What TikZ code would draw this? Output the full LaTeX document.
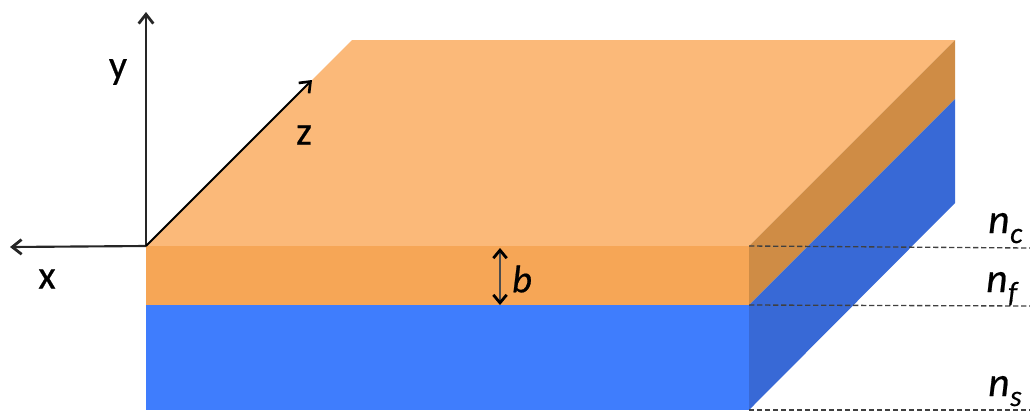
\documentclass[tikz,border=0pt]{standalone}
\usepackage{fontspec}
\setmainfont{Carlito}[FakeBold=0.5]
\newfontfamily\hvfont{Carlito}[RawFeature={embolden=0.5}]
\newfontfamily\hvit{Carlito Italic}[RawFeature={embolden=0.5}]
\usetikzlibrary{arrows.meta}
\definecolor{topface}{HTML}{FBB979}
\definecolor{filmfront}{HTML}{F6A656}
\definecolor{filmside}{HTML}{CF8C45}
\definecolor{subfront}{HTML}{3F7DFD}
\definecolor{subside}{HTML}{3869D6}
\newcommand{\nsub}[1]{n\kern.5pt\raisebox{-7.5pt}{\fontsize{22}{22}\selectfont\hvit #1}}
\tikzset{
  axisline/.style={draw=black!85,line width=1.6pt,-{Straight Barb[length=7pt,width=11pt,line width=2.1pt]}},
  zline/.style={draw=black,line width=1.5pt,-{Straight Barb[length=7pt,width=11pt,line width=2pt]}},
  bline/.style={draw=black!70,line width=1.3pt,{Straight Barb[length=6pt,width=10pt,line width=2.1pt,black]}-{Straight Barb[length=6pt,width=10pt,line width=2.1pt,black]}},
  level/.style={draw=black!75,line width=1pt,dash pattern=on 4pt off 2pt},
  lab/.style={inner sep=0pt,font=\fontsize{30}{30}\selectfont\hvfont},
  nlab/.style={inner sep=0pt,font=\fontsize{31}{31}\selectfont\hvit}
}
\begin{document}
\begin{tikzpicture}[x=.75pt,y=-.75pt]
\useasboundingbox (0,0) rectangle (1030,412);
% corners
\coordinate (o) at (146,246);
\coordinate (tl) at (352,40);
\coordinate (tr) at (955,40);
\coordinate (fr) at (749,246);
\coordinate (ml) at (146,305);
\coordinate (mr) at (749,305);
\coordinate (bl) at (146,410);
\coordinate (br) at (749,410);
\coordinate (rm) at (955,99);
\coordinate (rb) at (955,203);
% faces
\fill[topface] (o) -- (tl) -- (tr) -- (fr) -- cycle;
\fill[filmfront] (o) rectangle (mr);
\fill[subfront] (ml) rectangle (br);
\fill[filmside] (fr) -- (tr) -- (rm) -- (mr) -- cycle;
\fill[subside] (mr) -- (rm) -- (rb) -- (br) -- cycle;
% axes
\coordinate (xe) at (10,247);
\coordinate (ye) at (146,12);
\coordinate (ze) at (312,80);
\draw[axisline] (o) -- (xe);
\draw[axisline] (o) -- (ye);
\draw[zline] (o) -- (ze);
\node[lab] (xl) at (47,279) {x};
\node[lab] (yl) at (118,72) {y};
\node[lab] (zl) at (304,135) {z};
% thickness
\coordinate (bt) at (500,248);
\coordinate (bb) at (500,305);
\draw[bline] (bt) -- (bb);
\node[nlab,font=\fontsize{29}{29}\selectfont\hvit] (bl2) at (522,279) {b};
% levels
\coordinate (c1) at (1030,248);
\coordinate (f1) at (1030,306);
\coordinate (s1) at (1030,410);
\draw[level] (fr) -- (c1);
\draw[level] (mr) -- (f1);
\draw[level] (br) -- (s1);
\node[nlab,anchor=base west] (nc) at (988,233) {\nsub{c}};
\node[nlab,anchor=base west] (nf) at (986,292) {\nsub{f}};
\node[nlab,anchor=base west] (ns) at (988,396) {\nsub{s}};
\end{tikzpicture}
\end{document}
